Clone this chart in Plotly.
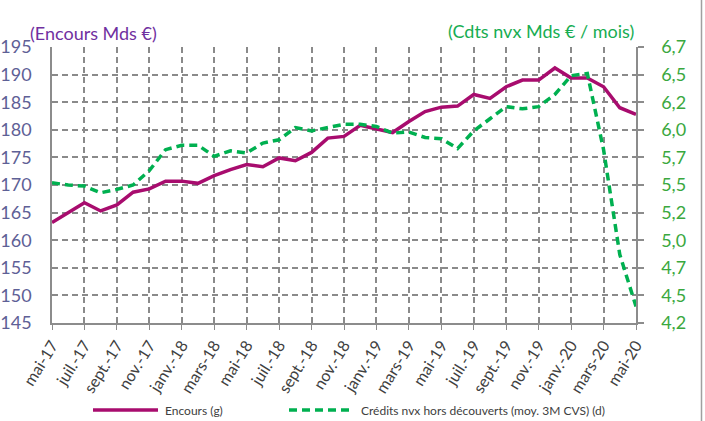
import plotly.graph_objects as go

months = ["mai-17", "juin-17", "juil.-17", "août-17", "sept.-17", "oct.-17", "nov.-17", "déc.-17",
          "janv.-18", "févr.-18", "mars-18", "avr.-18", "mai-18", "juin-18", "juil.-18", "août-18",
          "sept.-18", "oct.-18", "nov.-18", "déc.-18", "janv.-19", "févr.-19", "mars-19", "avr.-19",
          "mai-19", "juin-19", "juil.-19", "août-19", "sept.-19", "oct.-19", "nov.-19", "déc.-19",
          "janv.-20", "févr.-20", "mars-20", "avr.-20", "mai-20"]

encours = [163.2, 165.0, 166.8, 165.3, 166.4, 168.7, 169.3, 170.7, 170.7, 170.3,
           171.7, 172.8, 173.7, 173.3, 174.9, 174.4, 175.9, 178.5, 178.8, 180.8,
           180.1, 179.5, 181.5, 183.3, 184.1, 184.3, 186.4, 185.7, 187.8, 189.0,
           189.0, 191.2, 189.4, 189.4, 187.8, 184.0, 182.8]

credits = [5.47, 5.45, 5.44, 5.38, 5.41, 5.45, 5.58, 5.77, 5.81, 5.81,
           5.71, 5.76, 5.74, 5.83, 5.86, 5.97, 5.94, 5.97, 6.00, 6.00,
           5.98, 5.92, 5.93, 5.88, 5.87, 5.78, 5.94, 6.05, 6.16, 6.14,
           6.16, 6.27, 6.44, 6.46, 5.77, 4.82, 4.35]

x_ticks = months[::2]
left_ticks = [145, 150, 155, 160, 165, 170, 175, 180, 185, 190, 195]
right_tickvals = [4.2, 4.45, 4.7, 4.95, 5.2, 5.45, 5.7, 5.95, 6.2, 6.45, 6.7]
right_ticktext = ["4,2", "4,5", "4,7", "5,0", "5,2", "5,5", "5,7", "6,0", "6,2", "6,5", "6,7"]

MAG = "#A80C6E"
GREEN = "#00B050"
GRID = "#8A8A8A"
AXIS = "#8C8C8C"
FONT = "Lato"

W, H = 705, 421
L, R, T, B = 52, 636, 47, 323


def px(xp):
    return (xp - L) / (R - L)


def py(yp):
    return (B - yp) / (B - T)


PAD = "\u00a0\u00a0\u00a0"

fig = go.Figure()
fig.add_trace(go.Scatter(x=months, y=encours, mode="lines", name="Encours (g)",
                         line=dict(color=MAG, width=3.5), yaxis="y"))
fig.add_trace(go.Scatter(x=months, y=credits, mode="lines",
                         name="Crédits nvx hors découverts (moy. 3M CVS) (d)",
                         line=dict(color=GREEN, width=3.5, dash="8px,5px"), yaxis="y2"))

fig.update_layout(
    width=W, height=H,
    margin=dict(l=L, r=W - R, t=T, b=H - B, pad=0, autoexpand=False),
    paper_bgcolor="white", plot_bgcolor="white",
    showlegend=False,
    font=dict(family=FONT),
    xaxis=dict(type="category", range=[0, len(months) - 1], automargin=False,
               tickvals=x_ticks, ticktext=x_ticks, tickangle=-58,
               tickfont=dict(family=FONT, size=16, color="#404040"),
               showgrid=True, gridcolor=GRID, griddash="6px,4px", gridwidth=1.5,
               showline=True, linecolor=AXIS, linewidth=1.5,
               ticks="outside", ticklen=5, tickcolor=AXIS, tickwidth=1.2,
               zeroline=False),
    yaxis=dict(range=[145, 195], tickvals=left_ticks, automargin=False,
               tickfont=dict(family=FONT, size=18, color="#5E6096"),
               showgrid=True, gridcolor=GRID, griddash="6px,4px", gridwidth=1.5,
               showline=True, linecolor=AXIS, linewidth=1.5,
               ticks="", ticklabelstandoff=15, zeroline=False),
    yaxis2=dict(range=[4.2, 6.7], overlaying="y", side="right", automargin=False,
                tickvals=right_tickvals, ticktext=[PAD + t for t in right_ticktext],
                tickfont=dict(family=FONT, size=18, color="#3AA83E"),
                showgrid=False, showline=True, linecolor=AXIS, linewidth=1.5,
                ticks="outside", ticklen=6, tickcolor=AXIS, tickwidth=1.5,
                zeroline=False),
)

fig.add_annotation(text="(Encours Mds €)", xref="paper", yref="paper",
                   x=px(28), y=py(33), xanchor="left", yanchor="middle",
                   showarrow=False, font=dict(family=FONT, size=18, color="#7030A0"))
fig.add_annotation(text="(Cdts nvx Mds € / mois)", xref="paper", yref="paper",
                   x=px(636), y=py(31), xanchor="right", yanchor="middle",
                   showarrow=False, font=dict(family=FONT, size=18, color="#17AD52"))

# legend drawn manually
fig.add_shape(type="line", xref="paper", yref="paper", x0=px(93), x1=px(158), y0=py(410), y1=py(410),
              line=dict(color=MAG, width=3.5))
fig.add_annotation(text="Encours (g)", xref="paper", yref="paper", x=px(163), y=py(410),
                   xanchor="left", yanchor="middle", showarrow=False,
                   font=dict(family=FONT, size=12, color="#404040"))
fig.add_shape(type="line", xref="paper", yref="paper", x0=px(289), x1=px(354), y0=py(410), y1=py(410),
              line=dict(color=GREEN, width=3.5, dash="8px,5px"))
fig.add_annotation(text="Crédits nvx hors découverts (moy. 3M CVS) (d)", xref="paper", yref="paper",
                   x=px(359), y=py(410), xanchor="left", yanchor="middle", showarrow=False,
                   font=dict(family=FONT, size=12, color="#404040"))

# outer frame edge on the right
fig.add_shape(type="line", xref="paper", yref="paper", x0=px(701.5), x1=px(701.5), y0=py(0), y1=py(421),
              line=dict(color="#A0A0A0", width=1.5))

# remove the browser's default 8px body margin so the figure sits at the page origin
fig.write_html("out.html", config={"displayModeBar": False},
               post_script="document.body.style.margin='0';")
